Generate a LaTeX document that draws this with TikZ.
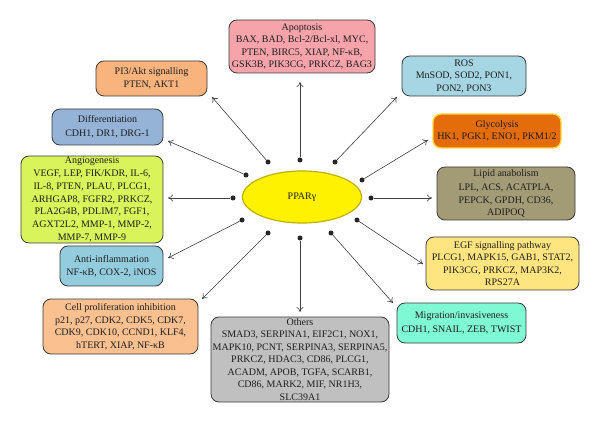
\documentclass[tikz,border=0pt]{standalone}
\usepackage{fontspec}
\setmainfont{Liberation Serif}
\usetikzlibrary{arrows.meta,shapes.geometric}
\definecolor{txt}{HTML}{1E1E1E}
\definecolor{edge}{HTML}{3A3A3A}
\definecolor{cApo}{HTML}{F7A3AA}
\definecolor{cPI}{HTML}{F9B47E}
\definecolor{cDiff}{HTML}{95B3D7}
\definecolor{cROS}{HTML}{A6D6E3}
\definecolor{cGly}{HTML}{E46C0A}
\definecolor{cGlyB}{HTML}{FFD43A}
\definecolor{cAng}{HTML}{D9F35A}
\definecolor{cAnti}{HTML}{93CDDD}
\definecolor{cLip}{HTML}{A39B76}
\definecolor{cEGF}{HTML}{FFE57F}
\definecolor{cCell}{HTML}{FAC090}
\definecolor{cOth}{HTML}{C0C0C0}
\definecolor{cMig}{HTML}{7FF9D3}
\definecolor{cEll}{HTML}{FFF200}
\definecolor{cEllB}{HTML}{BFB000}
\tikzset{
  infobox/.style={draw=edge, line width=0.8pt, rounded corners=8pt, align=center,
    text=txt, inner sep=1pt, font=\fontsize{10}{12.5}\selectfont},
  dotnode/.style={circle, fill=black!85, inner sep=0pt, minimum size=5pt},
  link/.style={draw=black!75, line width=0.6pt, -{To[length=5pt,width=7pt]}},
}
\begin{document}
\begin{tikzpicture}[x=1pt,y=-1pt]
\useasboundingbox (0,0) rectangle (600,422);
\fill[white] (0,0) rectangle (600,422);

% central ellipse
\node[ellipse, fill=cEll, draw=cEllB, line width=1.2pt, minimum width=119pt, minimum height=52pt,
  text=txt, font=\fontsize{10}{12}\selectfont] (ppar) at (302,197) {PPARγ};

% boxes
\node[infobox, fill=cApo, minimum width=146pt, minimum height=53pt] (apo) at (302,46.5)
  {Apoptosis\\BAX, BAD, Bcl-2/Bcl-xl, MYC,\\PTEN, BIRC5, XIAP, NF-κB,\\GSK3B, PIK3CG, PRKCZ, BAG3};
\node[infobox, fill=cPI, minimum width=111pt, minimum height=35pt] (pi) at (151.5,78.5)
  {PI3/Akt signalling\\PTEN, AKT1};
\node[infobox, fill=cDiff, minimum width=111pt, minimum height=36pt] (diff) at (107.5,127)
  {Differentiation\\[2pt]CDH1, DR1, DRG-1};
\node[infobox, fill=cROS, minimum width=124pt, minimum height=40pt] (ros) at (464,76)
  {ROS\\MnSOD, SOD2, PON1,\\PON2, PON3};
\node[infobox, fill=cGly, draw=cGlyB, line width=1.4pt, minimum width=128pt, minimum height=34pt] (gly) at (497,131)
  {Glycolysis\\HK1, PGK1, ENO1, PKM1/2};
\node[infobox, fill=cAng, minimum width=142pt, minimum height=85pt, font=\fontsize{10}{12.8}\selectfont] (ang) at (92,199.5)
  {Angiogenesis\\VEGF, LEP, FIK/KDR, IL-6,\\IL-8, PTEN, PLAU, PLCG1,\\ARHGAP8, FGFR2, PRKCZ,\\PLA2G4B, PDLIM7, FGF1,\\AGXT2L2, MMP-1, MMP-2,\\MMP-7, MMP-9};
\node[infobox, fill=cAnti, minimum width=103pt, minimum height=40pt] (anti) at (111.5,266)
  {Anti-inflammation\\NF-κB, COX-2, iNOS};
\node[infobox, fill=cLip, minimum width=138pt, minimum height=53pt] (lip) at (506,193.5)
  {Lipid anabolism\\[2pt]LPL, ACS, ACATPLA,\\PEPCK, GPDH, CD36,\\ADIPOQ};
\node[infobox, fill=cEGF, minimum width=153pt, minimum height=53pt] (egf) at (502.5,263.5)
  {EGF signalling pathway\\PLCG1, MAPK15, GAB1, STAT2,\\PIK3CG, PRKCZ, MAP3K2,\\RPS27A};
\node[infobox, fill=cCell, minimum width=155pt, minimum height=55pt] (cell) at (120.5,326.5)
  {Cell proliferation inhibition\\p21, p27, CDK2, CDK5, CDK7,\\CDK9, CDK10, CCND1, KLF4,\\hTERT, XIAP, NF-κB};
\node[infobox, fill=cOth, minimum width=178pt, minimum height=85pt] (oth) at (300,359.5)
  {Others\\SMAD3, SERPINA1, EIF2C1, NOX1,\\MAPK10, PCNT, SERPINA3, SERPINA5,\\PRKCZ, HDAC3, CD86, PLCG1,\\ACADM, APOB, TGFA, SCARB1,\\CD86, MARK2, MIF, NR1H3,\\SLC39A1};
\node[infobox, fill=cMig, minimum width=129pt, minimum height=40pt] (mig) at (461.5,323)
  {Migration/invasiveness\\[2pt]CDH1, SNAIL, ZEB, TWIST};

% dots around the ellipse
\node[dotnode] (dApo)  at (300,160) {};
\node[dotnode] (dPI)   at (268,162) {};
\node[dotnode] (dDiff) at (246,175) {};
\node[dotnode] (dAng)  at (233,198) {};
\node[dotnode] (dAnti) at (242,220) {};
\node[dotnode] (dCell) at (268,233) {};
\node[dotnode] (dOth)  at (300,238) {};
\node[dotnode] (dMig)  at (331,233) {};
\node[dotnode] (dEGF)  at (357,220) {};
\node[dotnode] (dLip)  at (371,198) {};
\node[dotnode] (dGly)  at (362,180) {};
\node[dotnode] (dROS)  at (335,162) {};

% arrow tips
\coordinate (tApo)  at (300,82);
\coordinate (tPI)   at (212,97);
\coordinate (tDiff) at (168,141);
\coordinate (tAng)  at (168,198);
\coordinate (tAnti) at (168,258);
\coordinate (tCell) at (202,299);
\coordinate (tOth)  at (300,312);
\coordinate (tMig)  at (393,303);
\coordinate (tEGF)  at (423,264);
\coordinate (tLip)  at (432,198);
\coordinate (tGly)  at (428,140);
\coordinate (tROS)  at (397,97);

\foreach \n in {Apo,PI,Diff,Ang,Anti,Cell,Oth,Mig,EGF,Lip,Gly,ROS}
  \draw[link] (d\n) -- (t\n);
\end{tikzpicture}
\end{document}
